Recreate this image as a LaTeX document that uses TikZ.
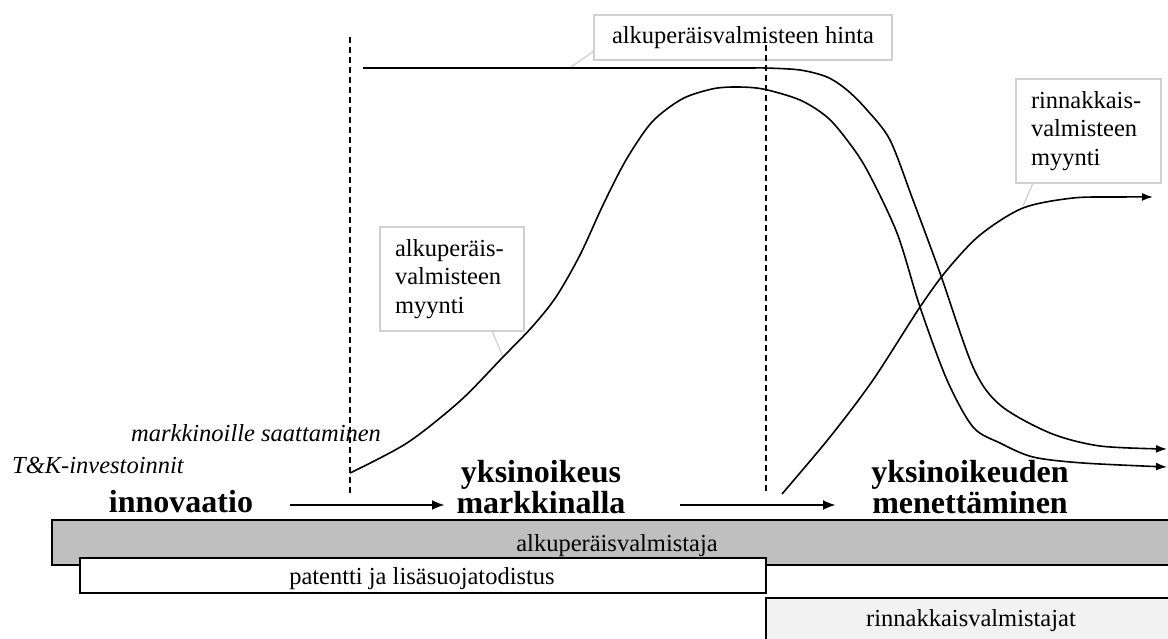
\documentclass[tikz,border=0pt]{standalone}
\usepackage{fontspec}
\setmainfont{Liberation Serif}
\usetikzlibrary{arrows.meta}
\definecolor{bandgray}{HTML}{BFBFBF}
\definecolor{lightband}{HTML}{F2F2F2}
\definecolor{calloutgray}{HTML}{D0D0D0}
\tikzset{
  reg/.style={font=\fontsize{24.5}{29}\selectfont, inner sep=0pt},
  ital/.style={font=\fontsize{24.5}{29}\selectfont\itshape, inner sep=0pt},
  phase/.style={font=\fontsize{32}{31}\selectfont\bfseries, align=center, inner sep=0pt},
  callbox/.style={draw=calloutgray, fill=white, line width=1.3pt, inner sep=0pt,
    font=\fontsize{24.5}{28.5}\selectfont},
  callline/.style={draw=calloutgray, line width=1.2pt},
  curve/.style={line width=1.6pt, -{Latex[length=11pt,width=8pt]}},
  phasearrow/.style={line width=2.6pt, -{Latex[length=13pt,width=10pt]}},
  dashline/.style={line width=1.5pt, dash pattern=on 6pt off 4pt},
  band/.style={draw=black, line width=2pt, inner sep=0pt, outer sep=0pt, anchor=north west}
}
\begin{document}
\begin{tikzpicture}[x=1pt,y=-1pt]
\useasboundingbox (0,0) rectangle (1168,639);
\fill[white] (0,0) rectangle (1168,639);

% bottom bands
\node[band, fill=bandgray, minimum width=1130pt, minimum height=45pt] (origband) at (52,520) {};
\node[band, fill=white, minimum width=686pt, minimum height=35pt] (patband) at (80,558) {};
\node[band, fill=lightband, minimum width=410pt, minimum height=50pt] (genband) at (766,598) {};
\node[reg] (origtxt) at (617,546) {alkuperäisvalmistaja};
\node[reg] (pattxt) at (422,579) {patentti ja lisäsuojatodistus};
\node[reg] (gentxt) at (971,621) {rinnakkaisvalmistajat};

% phase labels
\node[phase] (innov) at (181,502) {innovaatio};
\node[phase] (excl) at (541,487) {yksinoikeus\\markkinalla};
\node[phase] (loss) at (970,487) {yksinoikeuden\\menettäminen};
\coordinate (a1s) at (290,505);
\coordinate (a1e) at (445,505);
\coordinate (a2s) at (680,505);
\coordinate (a2e) at (836,505);
\draw[phasearrow] (a1s) -- (a1e);
\draw[phasearrow] (a2s) -- (a2e);

% italic labels
\node[ital, anchor=base west] (launch) at (131,441) {markkinoille saattaminen};
\node[ital, anchor=base west] (rnd) at (12,473) {T\&K-investoinnit};

% callout boxes
\node[callbox, minimum width=298pt, minimum height=45pt] (pricebox) at (743,37.5) {alkuperäisvalmisteen hinta};
\node[callbox, minimum width=144pt, minimum height=104pt, align=left, text width=114pt] (salesbox) at (452,279) {alkuperäis-\\valmisteen\\myynti};
\node[callbox, minimum width=145pt, minimum height=104pt, align=left, text width=115pt] (genbox) at (1088.5,131) {rinnakkais-\\valmisteen\\myynti};

% dashed lines
\coordinate (d1t) at (350,37);
\coordinate (d1b) at (350,495);
\coordinate (d2t) at (766,45);
\coordinate (d2b) at (766,492);
\draw[dashline] (d1t) -- (d1b);
\draw[dashline] (d2t) -- (d2b);

% callout pointers
\coordinate (pricept) at (571,67);
\coordinate (salespt) at (503,357);
\coordinate (genpt) at (1023,206);
\draw[callline] (594,51) -- (pricept);
\draw[callline] (492,331) -- (salespt);
\draw[callline] (1033,183) -- (genpt);

% curves
\draw[curve] plot[smooth, tension=0.5] coordinates {
  (363,68) (560,68) (740,68) (765,68) (800,70) (827,77) (847,90) (867,110) (890,140)
  (913,200) (940,273) (973,367) (1000,405) (1050,433) (1100,446) (1167,449)};
\draw[curve] plot[smooth, tension=0.5] coordinates {
  (350,473) (407,443) (460,401) (503,357) (532,327) (556,297) (580,255) (603,205)
  (626,160) (652,122) (682,99) (712,89) (735,87) (763,89) (800,100) (827,117)
  (847,140) (867,170) (897,233) (920,307) (947,380) (973,427) (1000,443) (1033,457)
  (1083,463) (1167,467)};
\draw[curve] plot[smooth, tension=0.5] coordinates {
  (782,494) (830,437) (873,380) (920,307) (947,270) (980,235) (1023,208) (1073,198)
  (1120,197) (1153,197)};
\end{tikzpicture}
\end{document}
